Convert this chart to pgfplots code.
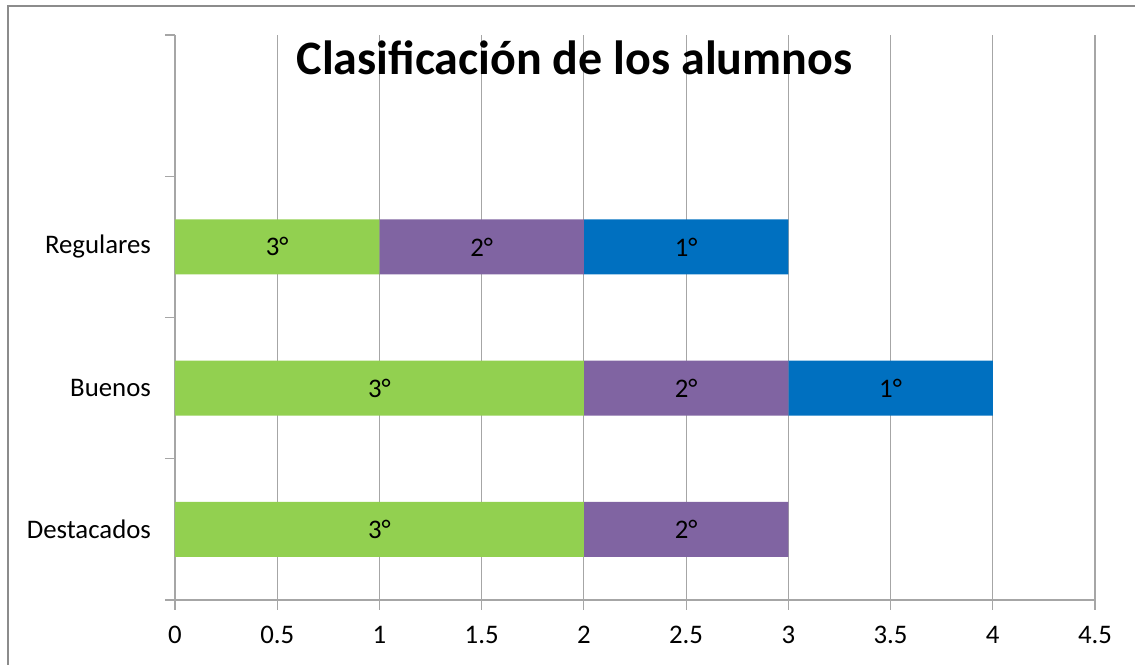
\documentclass[border=0pt]{standalone}
\usepackage{pgfplots}
\pgfplotsset{compat=1.18}
\usepackage{fontspec}
\setmainfont{Carlito}
\definecolor{g3}{HTML}{92D050}
\definecolor{p2}{HTML}{8064A2}
\definecolor{b1}{HTML}{0070C0}
\definecolor{gridgray}{HTML}{A6A6A6}
\definecolor{framegray}{HTML}{8C8C8C}
\begin{document}
\begin{tikzpicture}
\useasboundingbox (0,0) rectangle (567.5pt,332pt);
\draw[framegray, line width=1.3pt] (4pt,-2pt) -- (4pt,329pt) -- (570pt,329pt);
\begin{axis}[
  at={(87.5pt,32pt)}, anchor=south west,
  scale only axis, width=460pt, height=282.5pt,
  xbar stacked, bar width=27.5pt,
  xmin=0, xmax=4.5, ymin=-0.5, ymax=3.5,
  xtick={0,0.5,...,4.5},
  xmajorgrids, grid style={gridgray, line width=0.6pt},
  ytick={-0.5,0.5,1.5,2.5,3.5}, yticklabels={},
  extra y ticks={0,1,2},
  extra y tick labels={Destacados,Buenos,Regulares},
  extra y tick style={major tick length=0pt},
  axis x line*=bottom, axis y line*=left,
  axis line style={gridgray, line width=0.6pt, -},
  tick style={gridgray, line width=0.6pt},
  tick align=outside, major tick length=5pt,
  /pgf/number format/assume math mode=true,
  ticklabel style={font=\fontsize{13.4}{16}\selectfont},
  xticklabel style={yshift=-4.5pt},
  yticklabel style={xshift=-8.5pt},
  point meta=explicit symbolic,
  nodes near coords,
  every node near coord/.append style={font=\fontsize{13.4}{16}\selectfont, text=black},
]
\addplot[fill=g3, draw=none] coordinates {(2,0) [3°] (2,1) [3°] (1,2) [3°]};
\addplot[fill=p2, draw=none] coordinates {(1,0) [2°] (1,1) [2°] (1,2) [2°]};
\addplot[fill=b1, draw=none] coordinates {(0,0) [\relax] (1,1) [1°] (1,2) [1°]};
\end{axis}
\node[font=\bfseries\fontsize{24}{28}\selectfont] at (287.25pt,303pt) {Clasificación de los alumnos};
\end{tikzpicture}
\end{document}
